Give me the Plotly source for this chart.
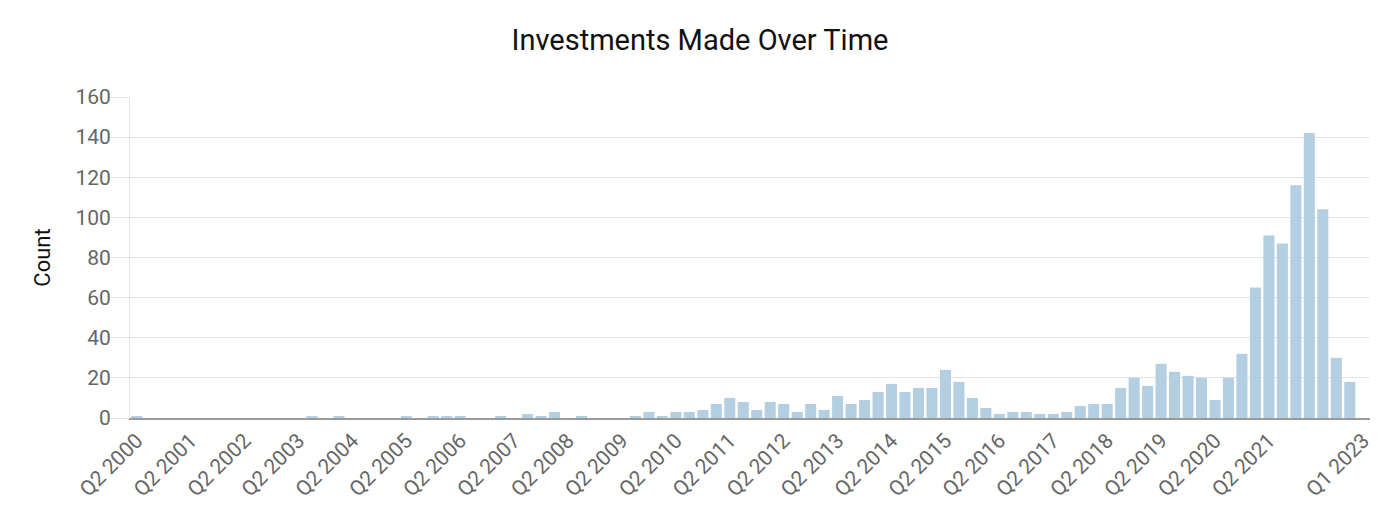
import plotly.graph_objects as go

# Quarter categories: Q2 2000 .. Q1 2023
quarters = []
for year in range(2000, 2024):
    for q in range(1, 5):
        if (year == 2000 and q < 2) or (year == 2023 and q > 1):
            continue
        quarters.append(f"Q{q} {year}")

counts = [
    1, 0, 0, 0, 0, 0, 0, 0, 0, 0,      # Q2 2000 - Q3 2002
    0, 0, 0, 1, 0, 1, 0, 0, 0, 0,      # Q4 2002 - Q1 2005
    1, 0, 1, 1, 1, 0, 0, 1, 0, 2,      # Q2 2005 - Q3 2007
    1, 3, 0, 1, 0, 0, 0, 1, 3, 1,      # Q4 2007 - Q1 2010
    3, 3, 4, 7, 10, 8, 4, 8, 7, 3,     # Q2 2010 - Q3 2012
    7, 4, 11, 7, 9, 13, 17, 13, 15, 15,  # Q4 2012 - Q1 2015
    24, 18, 10, 5, 2, 3, 3, 2, 2, 3,   # Q2 2015 - Q3 2017
    6, 7, 7, 15, 20, 16, 27, 23, 21, 20,  # Q4 2017 - Q1 2020
    9, 20, 32, 65, 91, 87, 116, 142, 104, 30,  # Q2 2020 - Q3 2022
    18, 0,                             # Q4 2022 - Q1 2023
]

tick_labels = [f"Q2 {y}" for y in range(2000, 2022)] + ["Q1 2023"]
y_ticks = [0, 20, 40, 60, 80, 100, 120, 140, 160]

fig = go.Figure(
    go.Bar(
        x=quarters,
        y=counts,
        marker=dict(color="#b4cfe1", line=dict(width=0)),
        hoverinfo="x+y",
    )
)

fig.update_layout(
    width=1400,
    height=531,
    margin=dict(l=130, r=30, t=97, b=113),
    paper_bgcolor="white",
    plot_bgcolor="white",
    font=dict(family="Roboto", color="#666666"),
    title=dict(
        text="Investments Made Over Time",
        x=0.5,
        xref="container",
        y=1 - 40 / 531,
        yanchor="middle",
        yref="container",
        font=dict(family="Roboto", size=29, color="#111111"),
    ),
    bargap=0.18,
    showlegend=False,
)

fig.update_xaxes(
    type="category",
    tickmode="array",
    tickvals=tick_labels,
    ticktext=tick_labels,
    tickangle=-45,
    tickfont=dict(size=21, color="#666666"),
    showgrid=False,
    showline=True,
    linecolor="#9a9a9a",
    linewidth=2,
    ticks="",
)

fig.update_yaxes(
    range=[0, 160],
    tickmode="array",
    tickvals=y_ticks,
    tickfont=dict(size=21, color="#666666"),
    ticklabelstandoff=-4,
    showgrid=True,
    gridcolor="#e3e3e3",
    gridwidth=1,
    showline=True,
    linecolor="#e3e3e3",
    ticks="outside",
    ticklen=18,
    tickcolor="#e3e3e3",
    zeroline=False,
    title=dict(text="Count", font=dict(size=22, color="#111111"), standoff=18),
)

fig.write_html("out.html")
